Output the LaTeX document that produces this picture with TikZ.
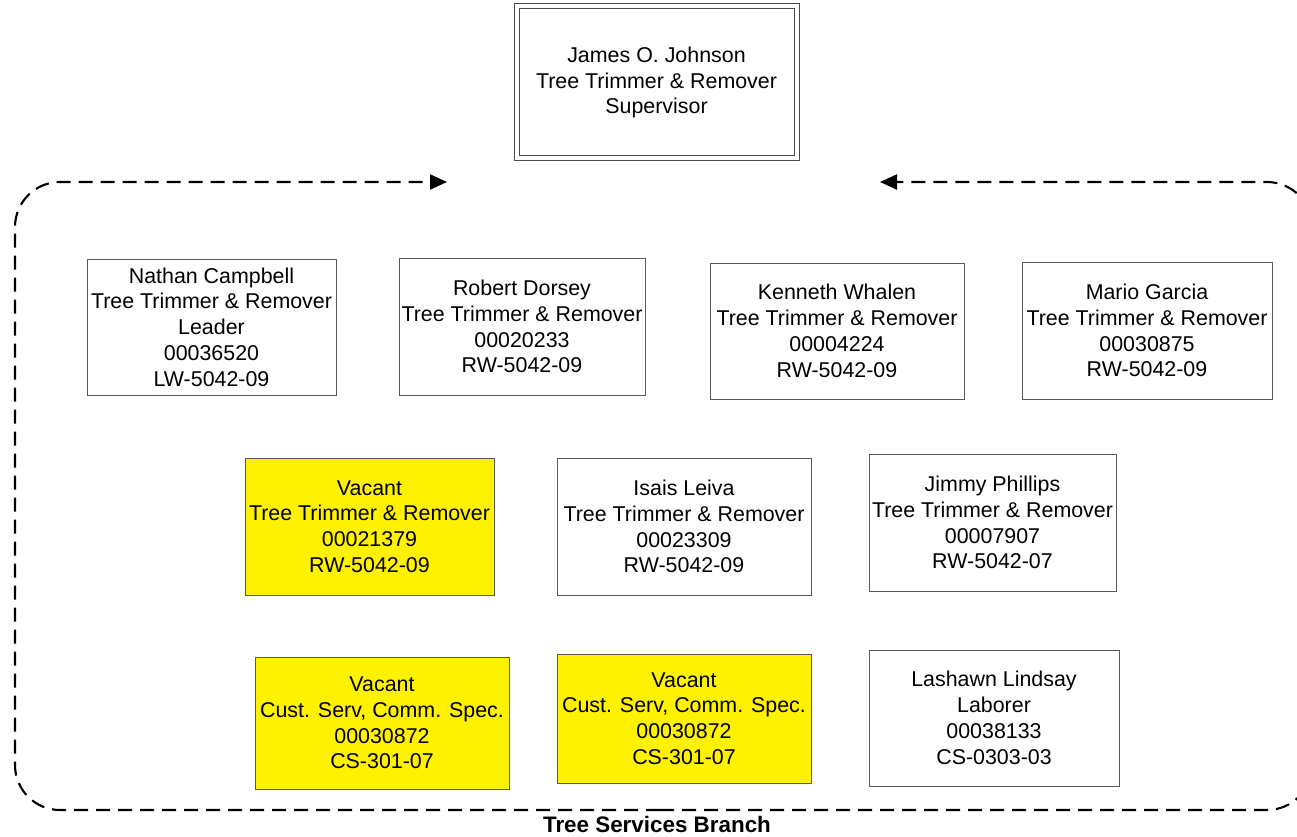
\documentclass[tikz,border=0pt]{standalone}
\usepackage{fontspec}
\setmainfont{Liberation Sans}
\usetikzlibrary{arrows.meta}
\begin{document}
\begin{tikzpicture}[x=1pt,y=-1pt,
  card/.style={draw=black!65, line width=0.9pt, rectangle, inner sep=0pt, align=center,
    font=\fontsize{21.4}{25.8}\selectfont},
  vacant/.style={card, fill=yellow},
  boundary/.style={dashed, dash pattern=on 14pt off 8pt, line width=2.1pt, rounded corners=45pt,
    -{Triangle[length=17pt,width=15pt]}}
]
\useasboundingbox (0,0) rectangle (1297,837);

\node[card, double, double distance=4pt, draw=black!70, line width=1pt,
  minimum width=280pt, minimum height=152pt] (sup) at (656.5,82.5)
  {James O. Johnson\\Tree Trimmer \& Remover\\Supervisor};

\node[card, minimum width=249pt, minimum height=136pt] (nathan) at (211.5,327)
  {Nathan Campbell\\Tree Trimmer \& Remover\\Leader\\00036520\\LW-5042-09};
\node[card, minimum width=246pt, minimum height=137pt] (robert) at (522,326.5)
  {Robert Dorsey\\Tree Trimmer \& Remover\\00020233\\RW-5042-09};
\node[card, minimum width=254pt, minimum height=136pt] (kenneth) at (837,331)
  {Kenneth Whalen\\Tree Trimmer \& Remover\\00004224\\RW-5042-09};
\node[card, minimum width=250pt, minimum height=137pt] (mario) at (1147,330.5)
  {Mario Garcia\\Tree Trimmer \& Remover\\00030875\\RW-5042-09};

\node[vacant, minimum width=249pt, minimum height=137pt] (vac1) at (369.5,526.5)
  {Vacant\\Tree Trimmer \& Remover\\00021379\\RW-5042-09};
\node[card, minimum width=254pt, minimum height=137pt] (isais) at (684,526.5)
  {Isais Leiva\\Tree Trimmer \& Remover\\00023309\\RW-5042-09};
\node[card, minimum width=247pt, minimum height=137pt] (jimmy) at (992.5,522.5)
  {Jimmy Phillips\\Tree Trimmer \& Remover\\00007907\\RW-5042-07};

\node[vacant, minimum width=254pt, minimum height=132pt] (vac2) at (382,723)
  {Vacant\\Cust. Serv, Comm. Spec.\\00030872\\CS-301-07};
\node[vacant, minimum width=254pt, minimum height=129pt] (vac3) at (684,718.5)
  {Vacant\\Cust. Serv, Comm. Spec.\\00030872\\CS-301-07};
\node[card, minimum width=250pt, minimum height=136pt] (lashawn) at (994,718)
  {Lashawn Lindsay\\Laborer\\00038133\\CS-0303-03};

\coordinate (bstart) at (660,810);
\coordinate (lcorner) at (15,182);
\coordinate (rcorner) at (1312,182);
\coordinate (ltip) at (447,182);
\coordinate (rtip) at (880,182);
\draw[boundary] (bstart) -| (lcorner) -- (ltip);
\draw[boundary] (bstart) -| (rcorner) -- (rtip);

\node[font=\fontsize{22.4}{26}\selectfont\bfseries, anchor=base] (branch) at (657,832) {Tree Services Branch};
\end{tikzpicture}
\end{document}
